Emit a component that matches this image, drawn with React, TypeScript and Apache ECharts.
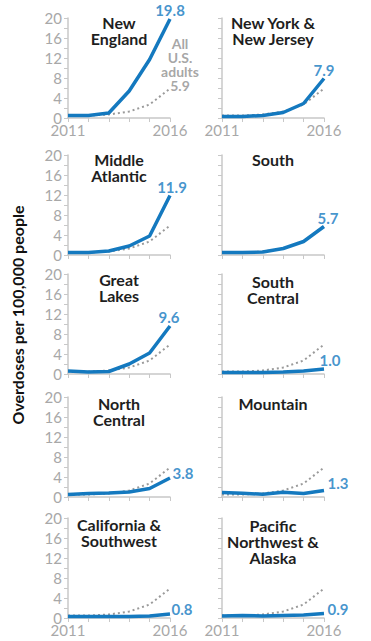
import React, { useEffect, useRef } from 'react';
import * as echarts from 'echarts';

const years = [2011, 2012, 2013, 2014, 2015, 2016];
const xTickLabels = [2011, 2016];
const yTickLabels = [0, 4, 8, 12, 16, 20];
const regionNames = [
  'New\nEngland',
  'New York &\nNew Jersey',
  'Middle\nAtlantic',
  'South',
  'Great\nLakes',
  'South\nCentral',
  'North\nCentral',
  'Mountain',
  'California &\nSouthwest',
  'Pacific\nNorthwest &\nAlaska',
];
const usAdults = [0.5, 0.5, 0.7, 1.3, 2.7, 5.9];
const newEngland = [0.5, 0.5, 1.0, 5.4, 11.7, 19.8];
const newYorkNewJersey = [0.3, 0.3, 0.5, 1.1, 2.9, 7.9];
const middleAtlantic = [0.5, 0.5, 0.8, 1.8, 3.8, 11.9];
const south = [0.5, 0.5, 0.6, 1.3, 2.7, 5.7];
const greatLakes = [0.6, 0.4, 0.5, 2.0, 4.2, 9.6];
const southCentral = [0.3, 0.3, 0.3, 0.4, 0.6, 1.0];
const northCentral = [0.5, 0.7, 0.8, 1.0, 1.7, 3.8];
const mountain = [0.9, 0.75, 0.55, 0.95, 0.7, 1.3];
const californiaSouthwest = [0.3, 0.3, 0.3, 0.3, 0.4, 0.8];
const pacificNorthwestAlaska = [0.4, 0.5, 0.4, 0.5, 0.6, 0.9];

const regionValues = [
  newEngland,
  newYorkNewJersey,
  middleAtlantic,
  south,
  greatLakes,
  southCentral,
  northCentral,
  mountain,
  californiaSouthwest,
  pacificNorthwestAlaska,
];

// layout
const colLefts = [68, 222];
const rowTops = [18, 155, 274, 397, 518];
const plotW = 102;
const plotH = 100;
const titleDy = [-4, -4, -4, -4, -3, -1, -2, -2, -2, -1];
// end label placement: [position, distance, offsetX, offsetY]
const endLabelPlace: [string, number, number, number][] = [
  ['top', 1, 0, 0],
  ['top', 1, 0, 0],
  ['top', 1, 2, 0],
  ['top', 1, 4, 0],
  ['top', 1, -1, 0],
  ['top', 1, 6, 0],
  ['right', 2, 0, -5],
  ['right', 3, 0, -8],
  ['right', 1, 0, -5],
  ['right', 3, 0, -5],
];

const BLUE = '#1479bf';
const GRAY_LINE = '#9a9a9a';
const AXIS = '#c8c8c8';
const TICK_TEXT = '#a8a8a8';
const FONT = 'Lato';

export default function App() {
  const ref = useRef<HTMLDivElement>(null);
  useEffect(() => {
    document.body.style.margin = '0';
    const chart = echarts.init(ref.current!, undefined, { renderer: 'svg' });
    const grid: any[] = [];
    const xAxis: any[] = [];
    const yAxis: any[] = [];
    const series: any[] = [];
    const graphic: any[] = [];

    regionNames.forEach((name, i) => {
      const row = Math.floor(i / 2);
      const col = i % 2;
      const left = colLefts[col];
      const top = rowTops[row];
      grid.push({ left, top, width: plotW, height: plotH, containLabel: false });
      xAxis.push({
        type: 'value',
        gridIndex: i,
        min: 2011,
        max: 2016,
        interval: 1,
        axisLine: { show: true, lineStyle: { color: AXIS, width: 1.5 } },
        axisTick: { show: true, length: 4, lineStyle: { color: AXIS, width: 1 } },
        axisLabel: {
          show: row === 0 || row === 4,
          margin: 4,
          color: TICK_TEXT,
          fontSize: 15,
          fontFamily: FONT,
          formatter: (v: number) => (xTickLabels.includes(v) ? String(v) : ''),
        },
        splitLine: { show: false },
      });
      yAxis.push({
        type: 'value',
        gridIndex: i,
        min: 0,
        max: 20,
        interval: 2,
        axisLine: { show: true, lineStyle: { color: AXIS, width: 1.5 } },
        axisTick: { show: true, length: 4, lineStyle: { color: AXIS, width: 1 } },
        axisLabel: {
          show: col === 0,
          margin: 6,
          color: TICK_TEXT,
          fontSize: 15,
          fontFamily: FONT,
          formatter: (v: number) => (yTickLabels.includes(v) ? String(v) : ''),
        },
        splitLine: { show: false },
      });
      series.push({
        type: 'line',
        xAxisIndex: i,
        yAxisIndex: i,
        data: years.map((y, j) => [y, usAdults[j]]),
        symbol: 'none',
        silent: true,
        z: 2,
        lineStyle: { color: GRAY_LINE, width: 2, type: [2, 3] },
      });
      const vals = regionValues[i];
      series.push({
        type: 'line',
        xAxisIndex: i,
        yAxisIndex: i,
        data: years.map((y, j) => [y, vals[j]]),
        symbol: 'none',
        silent: true,
        z: 3,
        lineStyle: { color: BLUE, width: 3.5 },
      });
      const lp = endLabelPlace[i];
      series.push({
        type: 'scatter',
        xAxisIndex: i,
        yAxisIndex: i,
        data: [[years[years.length - 1], vals[vals.length - 1]]],
        symbolSize: 1,
        silent: true,
        z: 4,
        itemStyle: { color: 'rgba(0,0,0,0)' },
        label: {
          show: true,
          position: lp[0],
          distance: lp[1],
          offset: [lp[2], lp[3]],
          formatter: (p: any) => Number(p.value[1]).toFixed(1),
          color: BLUE,
          fontWeight: 'bold',
          fontSize: 15,
          fontFamily: FONT,
        },
      });
      if (i === 0) {
        series.push({
          type: 'scatter',
          xAxisIndex: i,
          yAxisIndex: i,
          data: [[years[years.length - 1], usAdults[usAdults.length - 1]]],
          symbolSize: 1,
          silent: true,
          z: 4,
          itemStyle: { color: 'rgba(0,0,0,0)' },
          label: {
            show: true,
            position: 'top',
            distance: 0,
            offset: [10, 4],
            align: 'center',
            lineHeight: 14,
            formatter: (p: any) => 'All\nU.S.\nadults\n' + Number(p.value[1]).toFixed(1),
            color: '#8f8f8f',
            fontWeight: 'bold',
            fontSize: 14,
            fontFamily: FONT,
          },
        });
      }
      graphic.push({
        type: 'text',
        x: left + plotW / 2,
        y: top + titleDy[i],
        style: {
          text: name,
          fill: '#1e1e1e',
          font: `bold 16px ${FONT}`,
          lineHeight: 16,
          textAlign: 'center',
          textVerticalAlign: 'top',
        },
      });
    });

    graphic.push({
      type: 'text',
      x: 17,
      y: 315,
      rotation: Math.PI / 2,
      style: {
        text: 'Overdoses per 100,000 people',
        fill: '#111',
        font: `bold 16px ${FONT}`,
        textAlign: 'center',
        textVerticalAlign: 'middle',
      },
    });

    chart.setOption({
      animation: false,
      grid,
      xAxis,
      yAxis,
      series,
      graphic,
    });
    return () => chart.dispose();
  }, []);
  return <div ref={ref} style={{ width: 371, height: 641 }} />;
}
